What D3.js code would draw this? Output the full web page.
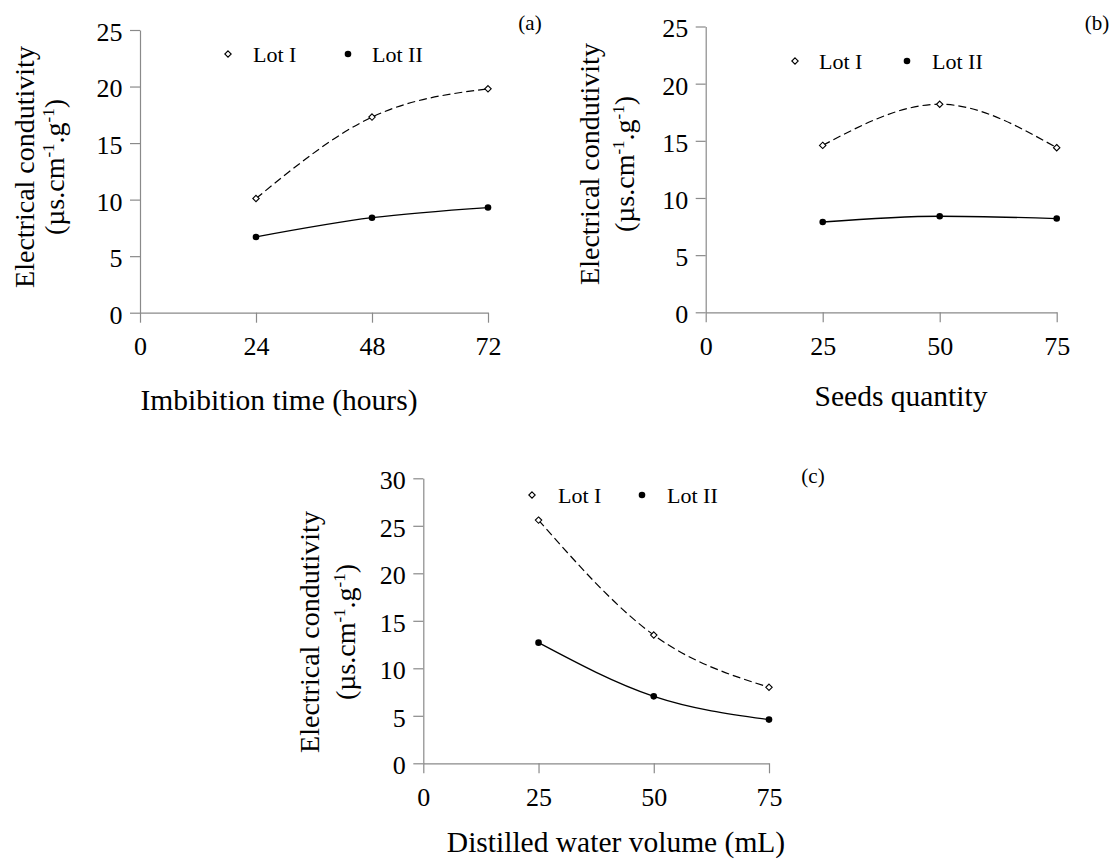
<!DOCTYPE html>
<html>
<head>
<meta charset="utf-8">
<script src="https://cdn.jsdelivr.net/npm/d3@7"></script>
<style>
  html, body { margin: 0; padding: 0; background: #fff; }
  svg, svg text { font-family: "Liberation Serif", "Times New Roman", serif; }
  svg { display: block; }
</style>
</head>
<body>
<svg id="chart" width="1112" height="859"></svg>
<script>
// ---------------- data ----------------
const seriesNames = ["Lot I", "Lot II"];
const panelLabels = ["(a)", "(b)", "(c)"];
const xTitles = ["Imbibition time (hours)", "Seeds quantity", "Distilled water volume (mL)"];
const yTitleLine1 = "Electrical condutivity";

// (a) imbibition time
const xTicksA = [0, 24, 48, 72];
const yTicksA = [0, 5, 10, 15, 20, 25];
const xValuesA = [24, 48, 72];
const lotIA = [10.1, 17.3, 19.8];
const lotIIA = [6.7, 8.4, 9.3];

// (b) seeds quantity
const xTicksB = [0, 25, 50, 75];
const yTicksB = [0, 5, 10, 15, 20, 25];
const xValuesB = [25, 50, 75];
const lotIB = [14.6, 18.2, 14.4];
const lotIIB = [7.9, 8.4, 8.2];

// (c) distilled water volume
const xTicksC = [0, 25, 50, 75];
const yTicksC = [0, 5, 10, 15, 20, 25, 30];
const xValuesC = [25, 50, 75];
const lotIC = [25.6, 13.5, 8.0];
const lotIIC = [12.7, 7.05, 4.6];

// ---------------- layout ----------------
const panels = [
  { label: panelLabels[0], xTitle: xTitles[0], xTicks: xTicksA, yTicks: yTicksA, xs: xValuesA, s1: lotIA, s2: lotIIA,
    x0: 140, x1: 488, y0: 312.7, y1: 30,
    labelPos: [530, 30], xTitlePos: [279, 410], yTitleX: [34, 64], yTitleY: 167,
    legendY: 54, legend: [228, 253, 348, 372] },
  { label: panelLabels[1], xTitle: xTitles[1], xTicks: xTicksB, yTicks: yTicksB, xs: xValuesB, s1: lotIB, s2: lotIIB,
    x0: 705.7, x1: 1056.7, y0: 312.3, y1: 26.5,
    labelPos: [1097, 30], xTitlePos: [901, 406], yTitleX: [599, 634], yTitleY: 164,
    legendY: 61, legend: [795, 819, 907, 932] },
  { label: panelLabels[2], xTitle: xTitles[2], xTicks: xTicksC, yTicks: yTicksC, xs: xValuesC, s1: lotIC, s2: lotIIC,
    x0: 423.3, x1: 769, y0: 763.3, y1: 478.3,
    labelPos: [813, 483], xTitlePos: [616, 852], yTitleX: [319, 355], yTitleY: 632,
    legendY: 495, legend: [532, 558, 642, 667] }
];

const FONT = '"Liberation Serif", "Times New Roman", serif';
const axisColor = "#8a8a8a";
const svg = d3.select("#chart");

panels.forEach(p => {
  const xMax = p.xTicks[p.xTicks.length - 1];
  const yMax = p.yTicks[p.yTicks.length - 1];
  const x = d3.scaleLinear().domain([0, xMax]).range([p.x0, p.x1]);
  const y = d3.scaleLinear().domain([0, yMax]).range([p.y0, p.y1]);
  const g = svg.append("g");

  // axes
  const gx = g.append("g").attr("transform", `translate(0,${p.y0})`)
    .call(d3.axisBottom(x).tickValues(p.xTicks).tickSize(10).tickSizeOuter(0).tickPadding(14));
  const gy = g.append("g").attr("transform", `translate(${p.x0},0)`)
    .call(d3.axisLeft(y).tickValues(p.yTicks).tickSize(10).tickSizeOuter(0).tickPadding(7.5));
  [gx, gy].forEach(a => {
    a.attr("font-family", null).attr("font-size", null).style("font-family", FONT);
    a.select(".domain").attr("stroke", axisColor).attr("stroke-width", 1.2);
    a.selectAll(".tick line").attr("stroke", axisColor).attr("stroke-width", 1.2);
    a.selectAll(".tick text").attr("fill", "#000").style("font-size", "26px").style("font-family", FONT);
  });
  gy.selectAll(".tick text").attr("dy", "0.4em");

  // curves
  const pts1 = p.xs.map((v, i) => [v, p.s1[i]]);
  const pts2 = p.xs.map((v, i) => [v, p.s2[i]]);
  const line = d3.line().x(d => x(d[0])).y(d => y(d[1])).curve(d3.curveMonotoneX);
  g.append("path").attr("d", line(pts1)).attr("fill", "none").attr("stroke", "#000")
    .attr("stroke-width", 1.2).attr("stroke-dasharray", "8,4");
  g.append("path").attr("d", line(pts2)).attr("fill", "none").attr("stroke", "#000")
    .attr("stroke-width", 1.3);

  const diamond = d3.symbol().type(d3.symbolDiamond2).size(26);
  g.selectAll(".m1").data(pts1).join("path")
    .attr("transform", d => `translate(${x(d[0])},${y(d[1])})`)
    .attr("d", diamond).attr("fill", "#fff").attr("stroke", "#000").attr("stroke-width", 1.1);
  g.selectAll(".m2").data(pts2).join("circle")
    .attr("cx", d => x(d[0])).attr("cy", d => y(d[1])).attr("r", 3.3).attr("fill", "#000");

  // legend
  const ly = p.legendY;
  g.append("path").attr("transform", `translate(${p.legend[0]},${ly})`)
    .attr("d", diamond).attr("fill", "#fff").attr("stroke", "#000").attr("stroke-width", 1.1);
  g.append("text").attr("x", p.legend[1]).attr("y", ly + 8).style("font-size", "22px").text(seriesNames[0]);
  g.append("circle").attr("cx", p.legend[2]).attr("cy", ly).attr("r", 3.3).attr("fill", "#000");
  g.append("text").attr("x", p.legend[3]).attr("y", ly + 8).style("font-size", "22px").text(seriesNames[1]);

  // panel label
  g.append("text").attr("x", p.labelPos[0]).attr("y", p.labelPos[1]).attr("text-anchor", "middle")
    .style("font-size", "21px").text(p.label);

  // x title
  g.append("text").attr("x", p.xTitlePos[0]).attr("y", p.xTitlePos[1]).attr("text-anchor", "middle")
    .style("font-size", "29.5px").text(p.xTitle);

  // y title (two lines, rotated)
  g.append("text").attr("transform", `translate(${p.yTitleX[0]},${p.yTitleY}) rotate(-90)`)
    .attr("text-anchor", "middle").style("font-size", "28px").text(yTitleLine1);
  const t2 = g.append("text").attr("transform", `translate(${p.yTitleX[1]},${p.yTitleY}) rotate(-90)`)
    .attr("text-anchor", "middle").style("font-size", "28px");
  t2.append("tspan").text("(\u00b5s.cm");
  t2.append("tspan").style("font-size", "17px").attr("dy", -10).text("-1");
  t2.append("tspan").attr("dy", 10).text(".g");
  t2.append("tspan").style("font-size", "17px").attr("dy", -10).text("-1");
  t2.append("tspan").attr("dy", 10).text(")");
});
</script>
</body>
</html>
